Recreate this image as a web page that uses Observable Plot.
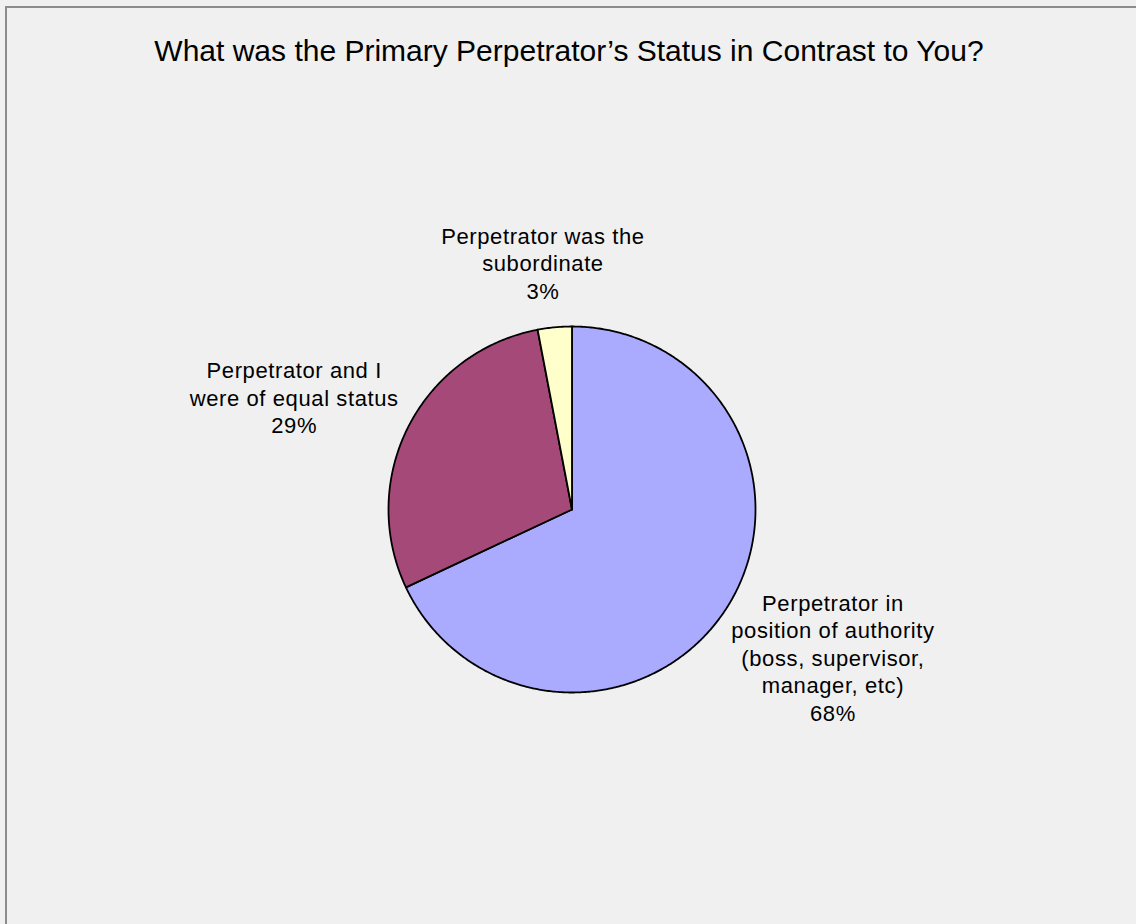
<!DOCTYPE html>
<html>
<head>
<meta charset="utf-8">
<script src="https://cdn.jsdelivr.net/npm/d3@7"></script>
<script src="https://cdn.jsdelivr.net/npm/@observablehq/plot@0.6"></script>
<style>
  html, body { margin: 0; padding: 0; background: #f0f0f0; overflow: hidden; }
  #wrap { position: relative; width: 1136px; height: 924px; background: #f0f0f0; overflow: hidden; }
  #frame { position: absolute; left: 5px; top: 6px; width: 1200px; height: 1000px; border-left: 2px solid #8c8c8c; border-top: 2px solid #8c8c8c; }
  #title { position: relative; height: 46px; padding-top: 34px; text-align: center; font-family: "Liberation Sans", Arial, sans-serif; font-size: 30px; color: #000; line-height: 34px; padding-left: 2px; }
  #chart { position: relative; }
  #chart svg text { letter-spacing: 0.6px; }
</style>
</head>
<body>
<div id="wrap">
  <div id="frame"></div>
  <div id="title">What was the Primary Perpetrator’s Status in Contrast to You?</div>
  <div id="chart"></div>
</div>
<script>
// ---- data ----
const categories = [
  "Perpetrator in position of authority (boss, supervisor, manager, etc)",
  "Perpetrator and I were of equal status",
  "Perpetrator was the subordinate"
];
const labelLines = [
  ["Perpetrator in", "position of authority", "(boss, supervisor,", "manager, etc)"],
  ["Perpetrator and I", "were of equal status"],
  ["Perpetrator was the", "subordinate"]
];
const shares = [68, 29, 3];
const sliceColors = ["#aaaaff", "#a54a78", "#ffffcc"];

// ---- layout helpers ----
const W = 1136, H = 844;
const mL = 388, mR = 381, mT = 246, mB = 232;
const pxPerUnit = (W - mL - mR) / 2;
const fontSize = 22, lineH = 1.25, letterSp = 0.6;
const fontFamily = '"Liberation Sans", Arial, sans-serif';

const ctx = document.createElement("canvas").getContext("2d");
ctx.font = `${fontSize}px ${fontFamily}`;
const measure = (s) => ctx.measureText(s).width + s.length * letterSp;

const total = d3.sum(shares);
let acc = 0;
const slices = shares.map((v, i) => {
  const a0 = acc / total * 2 * Math.PI;
  acc += v;
  const a1 = acc / total * 2 * Math.PI;
  return {cat: categories[i], value: v, a0, a1, lines: [...labelLines[i], `${v}%`]};
});

// polygon points for each slice (center -> arc -> center)
const points = [];
for (const s of slices) {
  points.push({cat: s.cat, x: 0, y: 0});
  const n = Math.max(2, Math.ceil((s.a1 - s.a0) / (Math.PI / 360)));
  for (let k = 0; k <= n; k++) {
    const a = s.a0 + (s.a1 - s.a0) * k / n;
    points.push({cat: s.cat, x: Math.sin(a), y: Math.cos(a)});
  }
  points.push({cat: s.cat, x: 0, y: 0});
}

// labels placed outside along the mid-angle
const labels = slices.map((s) => {
  const m = (s.a0 + s.a1) / 2;
  const r = 1.13;
  const w = d3.max(s.lines, measure) / pxPerUnit;
  const h = s.lines.length * fontSize * lineH / pxPerUnit;
  return {
    text: s.lines.join("\n"),
    x: r * Math.sin(m) + Math.sin(m) * w / 2,
    y: r * Math.cos(m) + Math.cos(m) * h / 2
  };
});

const chart = Plot.plot({
  width: W,
  height: H,
  marginLeft: mL, marginRight: mR, marginTop: mT, marginBottom: mB,
  x: {domain: [-1, 1], axis: null},
  y: {domain: [-1, 1], axis: null},
  color: {domain: categories, range: sliceColors},
  style: {background: "transparent", overflow: "visible"},
  marks: [
    Plot.line(points, {x: "x", y: "y", z: "cat", fill: "cat", stroke: "#000", strokeWidth: 1.8, strokeLinejoin: "round", curve: "linear"}),
    Plot.text(labels, {x: "x", y: "y", text: "text", fontSize: fontSize, fontFamily: fontFamily, lineHeight: lineH, lineAnchor: "middle", textAnchor: "middle", fill: "#000"})
  ]
});
document.getElementById("chart").appendChild(chart);
</script>
</body>
</html>
